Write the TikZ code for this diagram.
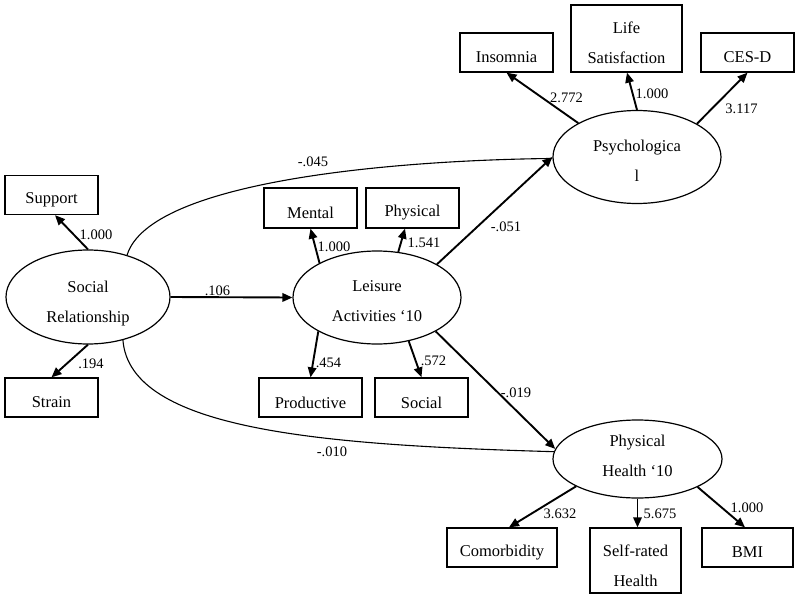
\documentclass[tikz,border=0pt]{standalone}
\usepackage{fontspec}
\setmainfont{Liberation Serif}
\usetikzlibrary{shapes.geometric,arrows.meta,calc}
\begin{document}
\begin{tikzpicture}[x=1pt,y=-1pt,
  box/.style={draw, line width=1.3pt, rectangle, minimum width=93, minimum height=39, inner sep=0pt},
  lat/.style={draw, line width=1.2pt, ellipse, inner sep=0pt},
  txt/.style={font=\fontsize{16.5}{30}\selectfont, align=center, inner sep=0pt},
  lbl/.style={font=\fontsize{14.5}{17}\selectfont, inner sep=0pt},
  pathar/.style={line width=1.9pt, -{Triangle[length=10pt,width=8.5pt]}},
  cov/.style={line width=1.1pt}]
\useasboundingbox (0,0) rectangle (800,599);

% latent variables
\node[lat, minimum width=164, minimum height=94,
      label={[txt,name=socT,yshift=-6.5pt]center:Social\\Relationship}] (soc) at (88,297) {};
\node[lat, minimum width=168, minimum height=93,
      label={[txt,name=leiT,yshift=-3.7pt]center:Leisure\\Activities ‘10}] (lei) at (377,297.5) {};
\node[lat, minimum width=168, minimum height=93,
      label={[txt,name=psyT,yshift=-4.2pt]center:Psychologica\\l}] (psy) at (637,157) {};
\node[lat, minimum width=169, minimum height=78,
      label={[txt,name=phyT,yshift=2.8pt]center:Physical\\Health ‘10}] (phy) at (637.5,459) {};

% indicators
\node[box, label={[txt,name=supT,yshift=-5pt]center:Support}] (sup) at (51.5,195) {};
\node[box, label={[txt,name=strT,yshift=-5pt]center:Strain}] (str) at (51.5,397.5) {};
\node[box, minimum height=40, label={[txt,name=menT,yshift=-5pt]center:Mental}] (men) at (310.5,208) {};
\node[box, minimum height=40, label={[txt,name=physT,yshift=-5pt]center:Physical}] (phys) at (412.5,208) {};
\node[box, minimum width=103, label={[txt,name=proT,yshift=-5pt]center:Productive}] (pro) at (310.5,397.5) {};
\node[box, label={[txt,name=sociT,yshift=-5pt]center:Social}] (soci) at (421.5,397.5) {};
\node[box, label={[txt,name=insT,yshift=-5pt]center:Insomnia}] (ins) at (506.5,52.5) {};
\node[box, minimum width=111, minimum height=67, label={[txt,name=lifeT,yshift=-4.3pt]center:Life\\Satisfaction}] (life) at (626.5,38.5) {};
\node[box, label={[txt,name=cesT,yshift=-5pt]center:CES-D}] (ces) at (747.5,52.5) {};
\node[box, minimum width=110, label={[txt,name=comT,yshift=-5pt]center:Comorbidity}] (com) at (502,547.5) {};
\node[box, minimum width=91, minimum height=65, label={[txt,name=selfT,yshift=-5pt]center:Self-rated\\Health}] (self) at (635.5,560.5) {};
\node[box, minimum width=91, label={[txt,name=bmiT,yshift=-5pt]center:BMI}] (bmi) at (747.5,547.5) {};

% structural and measurement paths
\draw[pathar] (soc.north) -- ([xshift=3.5pt]sup.south);
\draw[pathar] (soc.south) -- (str.north);
\draw[pathar] (soc.east) -- (lei.west);
\draw[pathar] (lei.149.7) -- (men.south);
\draw[pathar] (lei.65) -- ([xshift=-7.5pt]phys.south);
\draw[pathar] (lei.210.3) -- (pro.north);
\draw[pathar] (lei.306.5) -- (soci.north);
\draw[pathar] (lei.29.9) -- (psy.west);
\draw[pathar] (lei.330.1) -- (phy.173);
\draw[pathar] (psy.150.5) -- (ins.south);
\draw[pathar] (psy.north) -- ([xshift=0.5pt]life.south);
\draw[pathar] (psy.29.5) -- (ces.south);
\draw[pathar] (phy.204.8) -- ([xshift=7pt]com.north);
\draw[pathar] (phy.south) -- (phy.south |- self.north);
\draw[pathar] (phy.335.6) -- ([xshift=-2.5pt]bmi.north);

% direct effects drawn as curves
\draw[cov] (soc.47.9) .. controls (150,180) and (400,160) .. (psy.181);
\draw[cov] (soc.309.7) .. controls (130,430) and (320,445) .. (phy.175);

% coefficients
\node[lbl] (c1) at (96,235) {1.000};
\node[lbl] (c2) at (91,364) {.194};
\node[lbl] (c3) at (217.5,290.5) {.106};
\node[lbl] (c4) at (313,162) {-.045};
\node[lbl] (c5) at (334,247) {1.000};
\node[lbl] (c6) at (424,243) {1.541};
\node[lbl] (c7) at (328.5,363) {.454};
\node[lbl] (c8) at (433.5,361) {.572};
\node[lbl] (c9) at (506,227) {-.051};
\node[lbl] (c10) at (566.5,98) {2.772};
\node[lbl] (c11) at (652,94) {1.000};
\node[lbl] (c12) at (741.5,109) {3.117};
\node[lbl] (c13) at (516,393) {-.019};
\node[lbl] (c14) at (332,452) {-.010};
\node[lbl] (c15) at (560,514) {3.632};
\node[lbl] (c16) at (660,514) {5.675};
\node[lbl] (c17) at (747,508) {1.000};
\end{tikzpicture}
\end{document}
